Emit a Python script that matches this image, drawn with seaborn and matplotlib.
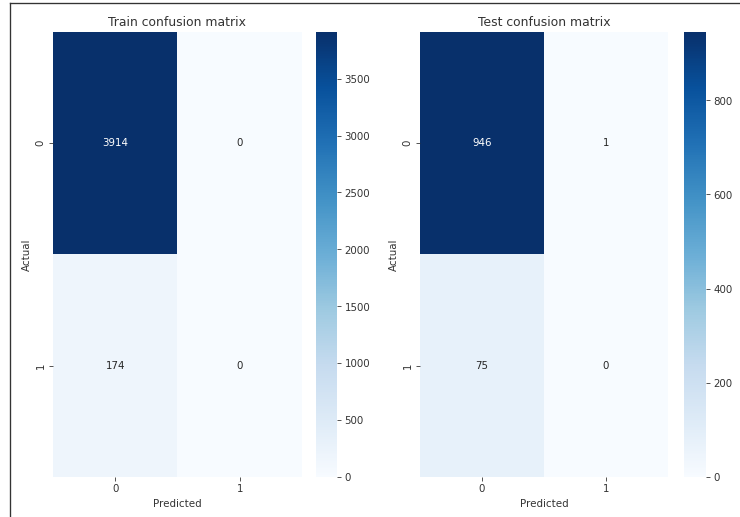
import matplotlib
matplotlib.use("Agg")
import matplotlib.pyplot as plt
import numpy as np
import seaborn as sns
from matplotlib.lines import Line2D

# Confusion matrix counts (rows: actual, columns: predicted)
class_labels = [0, 1]
train_cm = [[3914, 0],
            [174, 0]]
test_cm = [[946, 1],
           [75, 0]]
titles = ["Train confusion matrix", "Test confusion matrix"]

text_grey = "#333333"
plt.rcParams.update({
    "text.color": text_grey,
    "axes.labelcolor": text_grey,
    "xtick.color": text_grey,
    "ytick.color": text_grey,
})

fig = plt.figure(figsize=(10, 6.99), dpi=74)

bottom, height = 0.0774, 0.861
ax_pos = [[0.0716, bottom, 0.3364, height], [0.5676, bottom, 0.3351, height]]
cax_pos = [[0.427, bottom, 0.029, height], [0.924, bottom, 0.030, height]]

for cm, title, apos, cpos in zip([train_cm, test_cm], titles, ax_pos, cax_pos):
    ax = fig.add_axes(apos)
    cax = fig.add_axes(cpos)
    sns.heatmap(np.array(cm), annot=True, fmt="d", cmap="Blues", ax=ax, cbar_ax=cax,
                xticklabels=class_labels, yticklabels=class_labels)
    ax.set_title(title, fontsize=12)
    ax.set_xlabel("Predicted")
    ax.set_ylabel("Actual")

# thin frame along the top and left edges
fig.add_artist(Line2D([10 / 740, 1.0], [1 - 3.5 / 517, 1 - 3.5 / 517],
                      transform=fig.transFigure, color="#333333", lw=1.3))
fig.add_artist(Line2D([10 / 740, 10 / 740], [0.0, 1 - 3.5 / 517],
                      transform=fig.transFigure, color="#333333", lw=1.3))

fig.savefig("out.png", dpi=74)
